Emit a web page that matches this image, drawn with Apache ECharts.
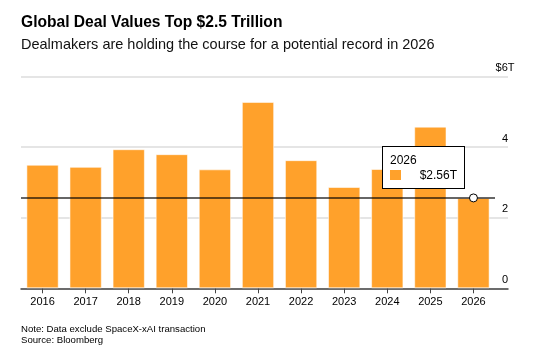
<!DOCTYPE html>
<html>
<head>
<meta charset="utf-8">
<script src="https://cdn.jsdelivr.net/npm/echarts@6/dist/echarts.min.js"></script>
<style>
  html, body { margin: 0; padding: 0; background: #fff; }
  #chart { width: 543px; height: 359px; }
</style>
</head>
<body>
<div id="chart"></div>
<script>
// data
var years = ['2016', '2017', '2018', '2019', '2020', '2021', '2022', '2023', '2024', '2025', '2026'];
var dealValues = [3.50, 3.44, 3.94, 3.80, 3.37, 5.28, 3.63, 2.87, 3.38, 4.58, 2.56];
var yTicks = [0, 2, 4, 6];
var yTickLabels = ['0', '2', '4', '$6T'];
var titleText = 'Global Deal Values Top $2.5 Trillion';
var subtitleText = 'Dealmakers are holding the course for a potential record in 2026';
var noteLines = ['Note: Data exclude SpaceX-xAI transaction', 'Source: Bloomberg'];

var orange = '#ffa12b';
var font = 'Liberation Sans, Arial, sans-serif';
var last = years.length - 1;

var chart = echarts.init(document.getElementById('chart'));

// titles + footnote as plain text elements
var texts = [
    { text: titleText, y: 22.5, size: 15.6, weight: 'bold', color: '#000' },
    { text: subtitleText, y: 44.5, size: 14.5, weight: 'normal', color: '#111' }
];
noteLines.forEach(function (t, i) {
    texts.push({ text: t, y: 329 + i * 11.5, size: 9.6, weight: 'normal', color: '#000' });
});

var option = {
    animation: false,
    textStyle: { fontFamily: font },
    tooltip: {
        trigger: 'item',
        alwaysShowContent: true,
        transitionDuration: 0,
        backgroundColor: '#fff',
        borderColor: '#000',
        borderWidth: 1,
        borderRadius: 0,
        padding: [6, 7, 6, 7],
        extraCssText: 'box-shadow:none;',
        position: function () { return [382, 146]; },
        formatter: function (p) {
            return '<div style="font:12px ' + font + ';color:#000;width:67px;">' +
                '<div style="line-height:14px;">' + p.name + '</div>' +
                '<div style="display:flex;justify-content:space-between;align-items:center;margin-top:1px;line-height:14px;">' +
                '<span style="display:inline-block;width:11px;height:10px;background:' + orange + ';"></span>' +
                '<span>$' + p.value.toFixed(2) + 'T</span></div></div>';
        }
    },
    grid: [
        { left: 21, right: 35, top: 76.5, bottom: 70.7 },
        { left: 21, right: 48, top: 76.5, bottom: 70.7 }
    ],
    xAxis: [
        {
            gridIndex: 0,
            type: 'category',
            data: years,
            axisLine: { show: true, lineStyle: { color: '#444', width: 1.5 } },
            axisTick: { show: false },
            axisLabel: { show: false }
        },
        {
            gridIndex: 1,
            type: 'category',
            data: years,
            axisLine: { show: false },
            axisTick: { show: true, alignWithLabel: true, length: 5, lineStyle: { color: '#444' } },
            axisLabel: { color: '#000', fontSize: 11, margin: 8, fontFamily: font }
        }
    ],
    yAxis: [
        {
            gridIndex: 0,
            type: 'value',
            position: 'right',
            min: yTicks[0],
            max: yTicks[yTicks.length - 1],
            interval: 2,
            axisLine: { show: false },
            axisTick: { show: false },
            splitLine: { show: true, lineStyle: { color: '#dcdcdc', width: 1.5 } },
            axisLabel: {
                margin: -3,
                align: 'center',
                verticalAlign: 'bottom',
                padding: [0, 0, 3, 0],
                color: '#000',
                fontSize: 11,
                fontFamily: font,
                formatter: function (v) { return yTickLabels[yTicks.indexOf(v)]; }
            }
        },
        {
            gridIndex: 1,
            type: 'value',
            min: yTicks[0],
            max: yTicks[yTicks.length - 1],
            show: false
        }
    ],
    series: [{
        name: 'Deal value',
        type: 'bar',
        xAxisIndex: 1,
        yAxisIndex: 1,
        data: dealValues,
        barCategoryGap: '25%',
        itemStyle: { color: orange, borderColor: 'rgba(255,255,255,0.55)', borderWidth: 1 },
        emphasis: { disabled: true },
        markLine: {
            silent: true,
            symbol: 'none',
            label: { show: false },
            lineStyle: { color: 'rgba(0,0,0,0.6)', width: 2, type: 'solid' },
            data: [{ yAxis: dealValues[last] }]
        },
        markPoint: {
            silent: true,
            symbol: 'circle',
            symbolSize: 8,
            label: { show: false },
            itemStyle: { color: '#fff', borderColor: '#000', borderWidth: 1 },
            data: [{ coord: [years[last], dealValues[last]] }]
        }
    }],
    graphic: texts.map(function (t) {
        return {
            type: 'text',
            x: 21,
            y: t.y,
            style: {
                text: t.text,
                fontSize: t.size,
                fontWeight: t.weight,
                fill: t.color,
                fontFamily: font,
                verticalAlign: 'middle'
            }
        };
    })
};

chart.setOption(option);
chart.dispatchAction({ type: 'showTip', seriesIndex: 0, dataIndex: last });
</script>
</body>
</html>
